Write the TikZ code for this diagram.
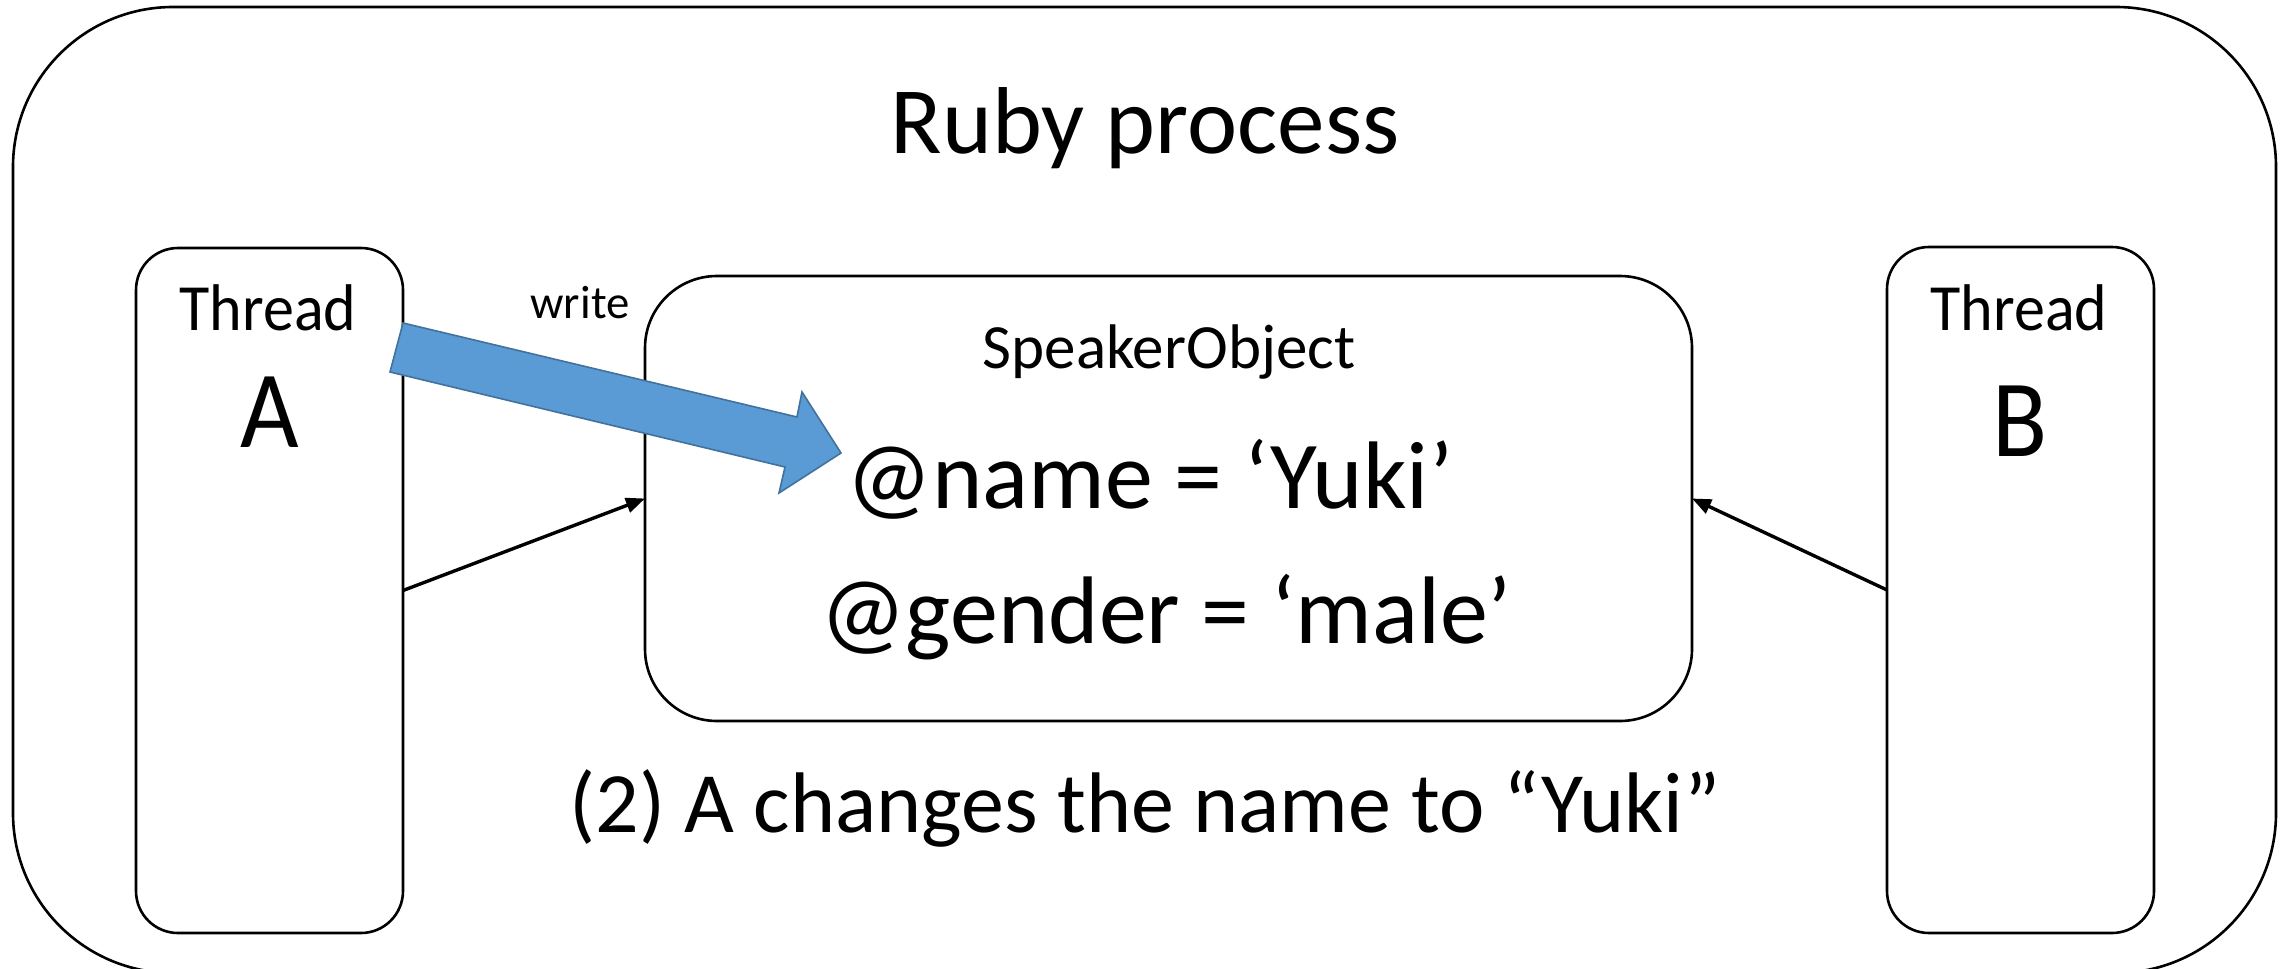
\documentclass[tikz,border=0pt]{standalone}
\usepackage{fontspec}
\setmainfont{Carlito}
\usetikzlibrary{arrows.meta}
\definecolor{arrowfill}{HTML}{5B9BD5}
\definecolor{arrowline}{HTML}{41719C}
\newcommand{\fs}[1]{\fontsize{#1}{1.2\dimexpr#1\relax}\selectfont}
% narrower setting for the thread labels
\newcommand{\narrow}[2]{\scalebox{#1}[1]{#2}}
\begin{document}
\begin{tikzpicture}[x=0.5pt,y=-0.5pt,
  box/.style={draw=black,line width=1.3pt,fill=white,inner sep=0pt,outer sep=0pt},
  conn/.style={line width=1.7pt,-{Triangle[length=9.5pt,width=7.5pt]}},
  blockarrow/.style={fill=arrowfill,draw=arrowline,line width=0.8pt,line join=miter},
  lbl/.style={anchor=base,inner sep=0pt,outer sep=0pt}]
\useasboundingbox (0,0) rectangle (2292,969);

% containers
\node[box,rounded corners=80pt,minimum width=1131.5pt,minimum height=483pt] (process) at (1144.5,490) {};
\node[box,rounded corners=21pt,minimum width=133.5pt,minimum height=342.5pt] (threadA) at (269.5,590.5) {};
\node[box,rounded corners=21pt,minimum width=133.5pt,minimum height=343pt] (threadB) at (2020.5,590) {};
\node[box,rounded corners=36pt,minimum width=523.5pt,minimum height=222.5pt] (speaker) at (1168.5,498.5) {};

% access connectors
\draw[conn] (threadA.east) -- (speaker.west);
\draw[conn] (threadB.west) -- (speaker.east);

% write arrow from thread A into the object
\draw[blockarrow] (403,323) -- (797,417) -- (802,392) -- (841,453) -- (779,493) -- (785,467) -- (390,372) -- cycle;

% labels
\node[lbl] (title) at (1145,153) {\fs{47.5pt}Ruby process};
\node[lbl] (tA) at (268,330) {\narrow{0.94}{\fs{33pt}Thread}};
\node[lbl] (nA) at (270,447) {\narrow{0.92}{\fs{55pt}A}};
\node[lbl] (tB) at (2019,330) {\narrow{0.94}{\fs{33pt}Thread}};
\node[lbl] (nB) at (2020,456) {\narrow{0.92}{\fs{55pt}B}};
\node[lbl] (write) at (580,318) {\fs{23.4pt}write};
\node[lbl] (sobj) at (1169,368) {\fs{31.5pt}SpeakerObject};
\node[lbl] (fname) at (1150,508) {\fs{48pt}@name = ‘Yuki’};
\node[lbl] (fgender) at (1166,643) {\fs{48pt}@gender = ‘male’};
\node[lbl] (caption) at (1145,832) {\fs{43pt}(2) A changes the name to “Yuki”};
\end{tikzpicture}
\end{document}
